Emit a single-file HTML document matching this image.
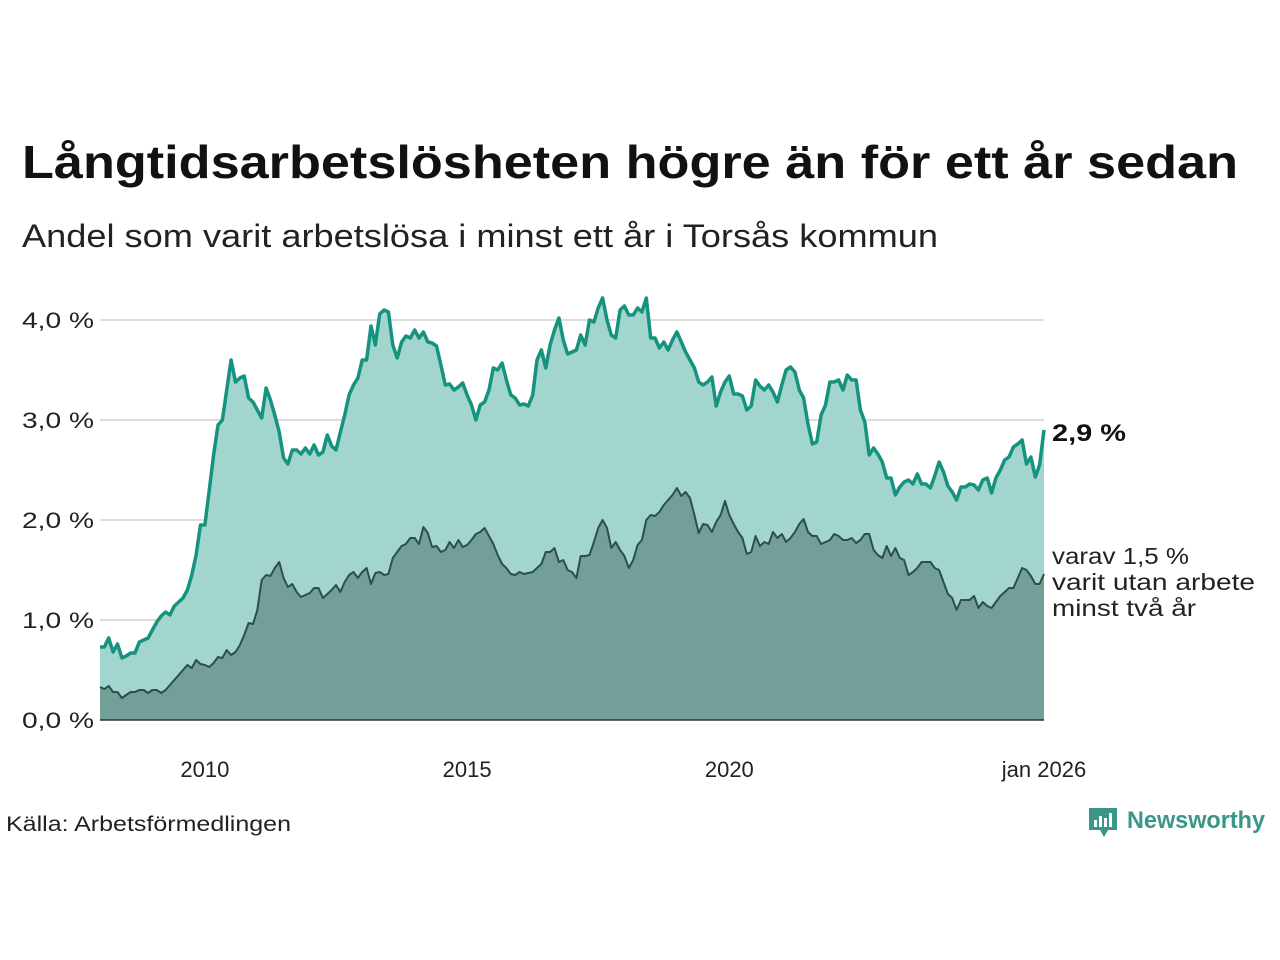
<!DOCTYPE html>
<html><head><meta charset="utf-8"><style>
html,body{margin:0;padding:0;background:#fff;}
svg{display:block;font-family:"Liberation Sans","DejaVu Sans",sans-serif;}
</style></head><body>
<svg id="chart" width="1280" height="960" viewBox="0 0 1280 960" xmlns="http://www.w3.org/2000/svg">
<text x="22" y="178" font-size="46" font-weight="bold" fill="#111" textLength="1216" lengthAdjust="spacingAndGlyphs">Långtidsarbetslösheten högre än för ett år sedan</text>
<text x="22" y="247" font-size="32" fill="#222" textLength="916" lengthAdjust="spacingAndGlyphs">Andel som varit arbetslösa i minst ett år i Torsås kommun</text>
<g id="grid"></g>
<g id="areas"></g>
<g id="yticks"></g>
<g id="xticks"></g>
<text x="1052" y="441" font-size="24" font-weight="bold" fill="#111" textLength="74" lengthAdjust="spacingAndGlyphs">2,9 %</text>
<text font-size="23" fill="#222"><tspan x="1052" y="564" textLength="137" lengthAdjust="spacingAndGlyphs">varav 1,5 %</tspan><tspan x="1052" y="590" textLength="203" lengthAdjust="spacingAndGlyphs">varit utan arbete</tspan><tspan x="1052" y="616" textLength="144" lengthAdjust="spacingAndGlyphs">minst två år</tspan></text>
<text x="6" y="831" font-size="21" fill="#222" textLength="285" lengthAdjust="spacingAndGlyphs">Källa: Arbetsförmedlingen</text>
<g>
<path d="M1089 808 h28 v22 h-9 l-4 7 l-4 -7 h-11 z" fill="#3a9688"/>
<rect x="1094" y="820" width="3" height="7" fill="#fff"/><rect x="1099" y="816" width="3" height="11" fill="#fff"/><rect x="1104" y="818" width="3" height="9" fill="#fff"/><rect x="1109" y="813" width="3" height="14" fill="#fff"/>
<text x="1127" y="828" font-size="24" font-weight="bold" fill="#3a9688" textLength="138" lengthAdjust="spacingAndGlyphs">Newsworthy</text>
</g>
</svg>
<script>
const totalShare=[0.73,0.73,0.82,0.68,0.76,0.62,0.64,0.67,0.67,0.78,0.80,0.82,
0.90,0.98,1.04,1.08,1.05,1.14,1.18,1.22,1.30,1.45,1.65,1.95,
1.95,2.30,2.65,2.95,3.00,3.30,3.60,3.38,3.42,3.44,3.22,3.18,
3.10,3.02,3.32,3.20,3.05,2.88,2.62,2.56,2.70,2.70,2.66,2.72,
2.66,2.75,2.65,2.68,2.85,2.74,2.70,2.88,3.05,3.25,3.35,3.42,
3.60,3.60,3.94,3.75,4.06,4.10,4.08,3.75,3.62,3.78,3.84,3.82,
3.90,3.82,3.88,3.78,3.77,3.74,3.55,3.35,3.36,3.30,3.33,3.37,
3.25,3.15,3.00,3.15,3.18,3.30,3.52,3.50,3.57,3.40,3.25,3.22,
3.15,3.16,3.14,3.25,3.60,3.70,3.52,3.75,3.90,4.02,3.80,3.66,
3.68,3.70,3.85,3.75,4.00,3.98,4.12,4.22,4.00,3.85,3.82,4.10,
4.14,4.05,4.05,4.12,4.08,4.22,3.82,3.82,3.72,3.78,3.70,3.80,
3.88,3.78,3.68,3.60,3.52,3.38,3.35,3.38,3.43,3.14,3.28,3.38,
3.44,3.26,3.26,3.24,3.10,3.14,3.40,3.34,3.30,3.35,3.28,3.18,
3.35,3.50,3.53,3.48,3.30,3.22,2.96,2.76,2.78,3.05,3.15,3.38,
3.38,3.40,3.30,3.45,3.40,3.40,3.10,2.98,2.65,2.72,2.66,2.58,
2.42,2.42,2.25,2.33,2.38,2.40,2.36,2.46,2.36,2.36,2.32,2.44,
2.58,2.48,2.34,2.28,2.20,2.33,2.33,2.36,2.35,2.30,2.40,2.42,
2.27,2.42,2.50,2.60,2.63,2.73,2.76,2.80,2.56,2.63,2.43,2.55,
2.90];
const twoYearShare=[0.33,0.31,0.34,0.28,0.28,0.22,0.25,0.28,0.28,0.30,0.30,0.27,
0.30,0.30,0.27,0.30,0.35,0.40,0.45,0.50,0.55,0.52,0.60,0.56,
0.55,0.53,0.57,0.63,0.62,0.70,0.65,0.68,0.75,0.85,0.97,0.96,
1.10,1.40,1.45,1.44,1.52,1.58,1.42,1.33,1.36,1.28,1.23,1.25,
1.27,1.32,1.32,1.22,1.26,1.30,1.35,1.28,1.38,1.45,1.48,1.42,
1.48,1.52,1.36,1.47,1.48,1.45,1.46,1.62,1.68,1.74,1.76,1.82,
1.82,1.76,1.93,1.87,1.73,1.74,1.68,1.70,1.78,1.72,1.80,1.73,
1.75,1.80,1.86,1.88,1.92,1.84,1.76,1.65,1.56,1.52,1.46,1.45,
1.48,1.46,1.47,1.48,1.52,1.56,1.68,1.68,1.72,1.58,1.60,1.50,
1.48,1.42,1.64,1.64,1.65,1.78,1.92,2.00,1.92,1.72,1.78,1.70,
1.64,1.52,1.60,1.75,1.80,2.00,2.05,2.04,2.08,2.15,2.20,2.25,
2.32,2.24,2.28,2.22,2.05,1.87,1.96,1.95,1.88,1.98,2.05,2.19,
2.05,1.96,1.88,1.82,1.66,1.68,1.84,1.74,1.78,1.76,1.88,1.82,
1.86,1.78,1.82,1.88,1.96,2.01,1.88,1.84,1.84,1.76,1.78,1.80,
1.86,1.84,1.80,1.80,1.82,1.77,1.80,1.86,1.86,1.70,1.65,1.62,
1.74,1.64,1.72,1.62,1.60,1.45,1.48,1.52,1.58,1.58,1.58,1.52,
1.50,1.38,1.26,1.22,1.10,1.20,1.20,1.20,1.24,1.12,1.18,1.14,
1.12,1.18,1.24,1.28,1.32,1.32,1.42,1.52,1.50,1.44,1.36,1.36,
1.46];
const yTicks=[0,1,2,3,4];
const yTickLabels=["0,0 %","1,0 %","2,0 %","3,0 %","4,0 %"];
const xTickYears=[2010,2015,2020,2026];
const xTickLabels=["2010","2015","2020","jan 2026"];
const startYear=2008;

const NS="http://www.w3.org/2000/svg";
const X0=100,X1=1044,Y0=720,YPX=100;
const nMonths=totalShare.length-1;
const xm=i=>X0+(X1-X0)*i/nMonths;
const xy=yr=>xm((yr-startYear)*12);
const yv=v=>Y0-v*YPX;
function mk(tag,attrs,parent){const e=document.createElementNS(NS,tag);for(const k in attrs)e.setAttribute(k,attrs[k]);parent.appendChild(e);return e;}
const grid=document.getElementById('grid'),areas=document.getElementById('areas'),yt=document.getElementById('yticks'),xt=document.getElementById('xticks');
yTicks.forEach((t,i)=>{
  if(t>0){const l=mk('line',{x1:X0,x2:X1,y1:yv(t),y2:yv(t),stroke:'#ddd','stroke-width':2},grid);
  
  }
  const tx=mk('text',{x:94,y:yv(t)+8,'text-anchor':'end','font-size':22,fill:'#222',textLength:72,lengthAdjust:'spacingAndGlyphs'},yt);
  tx.textContent=yTickLabels[i];
  
  
});
xTickYears.forEach((yr,i)=>{
  const tx=mk('text',{x:xy(yr),y:777,'text-anchor':'middle','font-size':22,fill:'#222'},xt);
  tx.textContent=xTickLabels[i];
  
  
});
function pts(arr){return arr.map((v,i)=>xm(i).toFixed(1)+','+yv(v).toFixed(1)).join(' L');}
function area(arr,fill,stroke,sw,name){
  const a=mk('path',{d:'M'+xm(0)+','+Y0+' L'+pts(arr)+' L'+xm(arr.length-1)+','+Y0+' Z',fill:fill,stroke:'none'},areas);
  
  
  const l=mk('path',{d:'M'+pts(arr),fill:'none',stroke:stroke,'stroke-width':sw,'stroke-linejoin':'round'},areas);
  
  
}
area(totalShare,'#a3d5cf','#16937f',3.5,'total-share');
area(twoYearShare,'#72a098','#2c4f48',2,'two-year-share');
const ax=mk('line',{x1:X0,x2:X1,y1:Y0,y2:Y0,stroke:'#333','stroke-width':1.5},areas);


</script>
</body></html>
